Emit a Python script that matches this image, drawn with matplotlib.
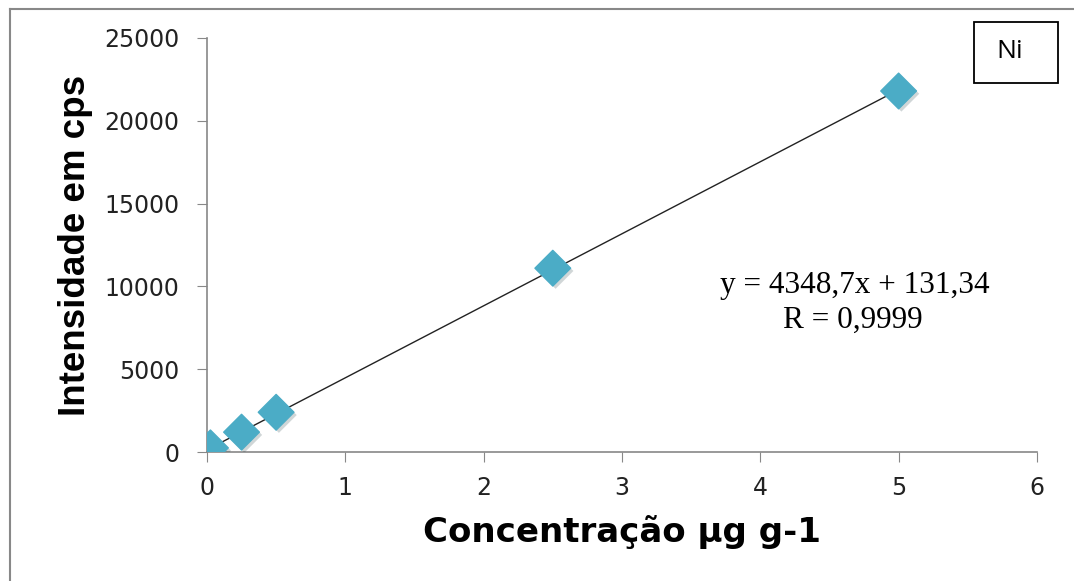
import numpy as np
import matplotlib.pyplot as plt
import matplotlib.patheffects as pe
from matplotlib.patches import Rectangle
from matplotlib.lines import Line2D

# calibration data (Ni)
conc = [0.025, 0.25, 0.5, 2.5, 5.0]
intensity = [250, 1200, 2400, 11100, 21800]
slope = 4348.7
intercept = 131.34

x_ticks = [0, 1, 2, 3, 4, 5, 6]
y_ticks = [0, 5000, 10000, 15000, 20000, 25000]

fig = plt.figure(figsize=(10.74, 5.81), dpi=100)
ax = fig.add_axes([0.1927, 0.222, 0.7728, 0.7126])

# trendline over data range
xl = np.array([min(conc), max(conc)])
ax.plot(xl, slope * xl + intercept, color="#222222", lw=1.0, zorder=2)

ax.scatter(conc, intensity, marker="D", s=330, color="#4BACC6", zorder=3,
           path_effects=[pe.SimplePatchShadow(offset=(2, -2), alpha=0.2),
                         pe.Normal()])

ax.set_xlim(0, 6)
ax.set_ylim(0, 25000)
ax.set_xticks(x_ticks)
ax.set_yticks(y_ticks)

for s in ["top", "right"]:
    ax.spines[s].set_visible(False)
for s in ["left", "bottom"]:
    ax.spines[s].set_color("#888888")
    ax.spines[s].set_linewidth(1.2)

ax.tick_params(axis="both", direction="out", length=7, color="#888888",
               labelsize=17, labelcolor="#222222")
ax.tick_params(axis="y", pad=13)
ax.tick_params(axis="x", pad=10)
for lab in ax.get_xticklabels() + ax.get_yticklabels():
    lab.set_fontfamily("DejaVu Sans")

ax.set_xlabel("Concentração µg g-1", fontsize=24.5, fontweight="bold",
              family="DejaVu Sans")
ax.set_ylabel("Intensidade em cps", fontsize=26.5, fontweight="bold",
              family="Liberation Sans")
ax.yaxis.set_label_coords(-0.1373, 0.5)
ax.xaxis.set_label_coords(0.5, -0.152)

# equation
fig.text(855 / 1074, 1 - 285 / 581, "y = 4348,7x + 131,34", ha="center",
         va="center", fontsize=22.5, family="Liberation Serif")
fig.text(853 / 1074, 1 - 320 / 581, "R = 0,9999", ha="center",
         va="center", fontsize=22.5, family="Liberation Serif")

# Ni box
fig.patches.append(Rectangle((974 / 1074, 1 - 83 / 581), 84 / 1074, 61 / 581,
                             transform=fig.transFigure, fill=False,
                             edgecolor="black", lw=1.3))
fig.text(1010 / 1074, 1 - 52 / 581, "Ni", ha="center", va="center",
         fontsize=19, family="Open Sans")

# outer frame (left and top)
fig.lines.append(Line2D([10 / 1074, 10 / 1074], [0, 1 - 9 / 581],
                        transform=fig.transFigure, color="#888888", lw=1.5))
fig.lines.append(Line2D([10 / 1074, 1], [1 - 9 / 581, 1 - 9 / 581],
                        transform=fig.transFigure, color="#888888", lw=1.5))

fig.savefig("out.png", dpi=100)
